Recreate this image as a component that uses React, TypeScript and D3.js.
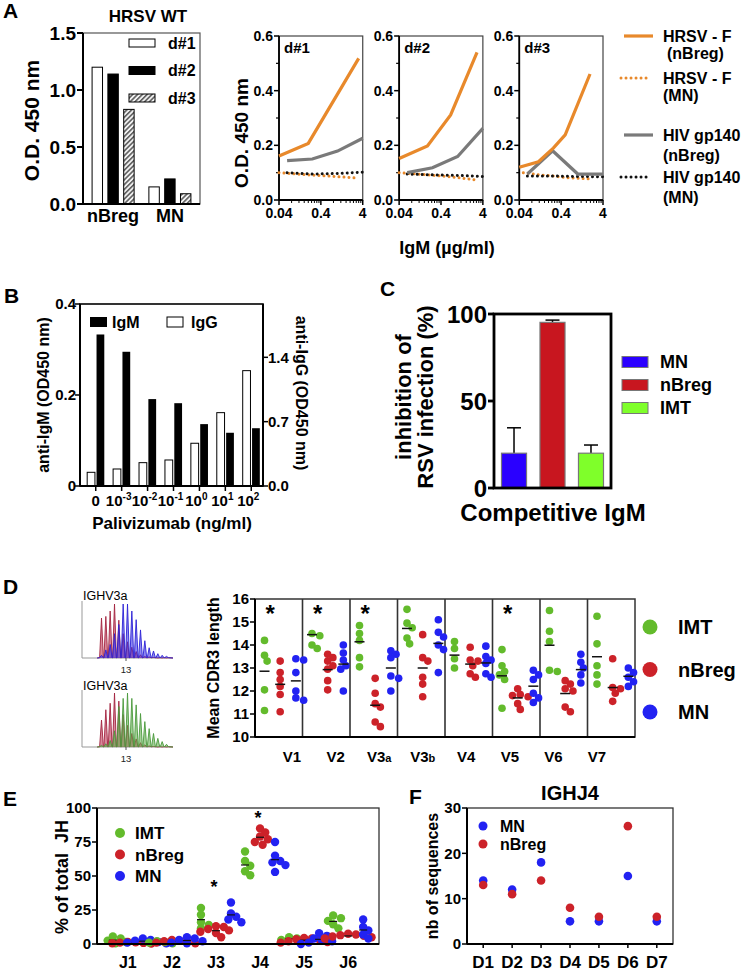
import React from "react";
import * as d3 from "d3";

const FONT = "'Liberation Sans', Arial, Helvetica, sans-serif";
const W = 743;
const H = 972;

// ---------------- Panel A (left) ----------------
const aGroups = ["nBreg", "MN"];
const aDonors = ["d#1", "d#2", "d#3"];
const aDonor1 = [1.2, 0.15];
const aDonor2 = [1.14, 0.22];
const aDonor3 = [0.83, 0.09];
const aTicks = [0, 0.5, 1.0, 1.5];

// ---------------- Panel A (right) ----------------
const arDonors = ["d#1", "d#2", "d#3"];
const arXTicks = [0.04, 0.4, 4];
const arXTickLabels = ["0.04", "0.4", "4"];
const arYTicks = [0, 0.2, 0.4, 0.6];
const arYMinor = [0.1, 0.3, 0.5];
const hrsvNbregX = [[0.04, 0.2, 3.2], [0.04, 0.19, 0.68, 2.9], [0.04, 0.115, 0.26, 0.5, 1.96]];
const hrsvNbregY = [[0.161, 0.207, 0.518], [0.152, 0.198, 0.311, 0.54], [0.12, 0.14, 0.19, 0.238, 0.461]];
const hrsvMnX = [[0.04, 0.2, 0.7, 3.2], [0.04, 0.19, 0.68, 2.9], [0.05, 0.115, 0.26, 0.5, 1.96]];
const hrsvMnY = [[0.1, 0.092, 0.087, 0.08], [0.1, 0.092, 0.085, 0.073], [0.1, 0.092, 0.088, 0.082, 0.077]];
const hivX = [0.0625, 0.25, 1, 4];
const hivNbregY = [[0.144, 0.15, 0.179, 0.226], [0.1, 0.118, 0.159, 0.262], [0.095, 0.18, 0.095, 0.095]];
const hivMnY = [[0.1, 0.095, 0.097, 0.102], [0.095, 0.092, 0.09, 0.086], [0.088, 0.088, 0.086, 0.085]];
const arLegend = ["HRSV - F|(nBreg)", "HRSV - F|(MN)", "HIV gp140|(nBreg)", "HIV gp140|(MN)"];

// ---------------- Panel B ----------------
const bCats = ["0", "1e-3", "1e-2", "1e-1", "1e0", "1e1", "1e2"];
const bExps = ["", "-3", "-2", "-1", "0", "1", "2"];
const bIgM = [0.333, 0.295, 0.191, 0.182, 0.136, 0.117, 0.127];
const bIgG = [0.149, 0.185, 0.254, 0.283, 0.465, 0.798, 1.255];
const bLeftTicks = [0, 0.2, 0.4];
const bRightTicks = [0, 0.7, 1.4];

// ---------------- Panel C ----------------
const cCats = ["MN", "nBreg", "IMT"];
const cMeans = [20, 95.2, 20];
const cErrTop = [34.6, 96.5, 24.7];
const cTicks = [0, 50, 100];

// ---------------- Panel D ----------------
const dGenes = ["V1", "V2", "V3a", "V3b", "V4", "V5", "V6", "V7"];
const dGroups = ["IMT", "nBreg", "MN"];
const dIMT = [
  [14.2, 13.55, 13.3, 12.05, 11.15],
  [14.5, 14.4, 14.0, 13.85],
  [14.85, 14.5, 14.2, 13.45, 13.05],
  [15.55, 14.95, 14.75, 14.3, 14.05],
  [14.15, 13.85, 13.4, 13.0],
  [13.8, 13.1, 12.85, 12.7, 12.5, 11.25],
  [15.5, 14.6, 14.15, 12.9, 12.85],
  [15.25, 14.05, 13.1, 12.7, 12.3],
];
const dNBreg = [
  [13.3, 12.8, 12.5, 12.2, 11.85, 11.1],
  [13.6, 13.45, 13.3, 13.1, 12.95, 12.45, 12.05],
  [12.55, 11.9, 11.45, 11.3, 10.65, 10.45],
  [14.45, 13.45, 13.3, 12.6, 12.3, 11.75],
  [13.9, 13.35, 13.3, 13.1, 12.75, 12.6],
  [12.1, 11.85, 11.8, 11.75, 11.45, 11.2],
  [12.45, 12.3, 12.1, 12.0, 11.3, 11.1],
  [13.4, 12.15, 12.1, 11.9, 11.55],
];
const dMN = [
  [13.4, 13.35, 12.8, 12.0, 11.7, 11.6],
  [14.0, 13.65, 13.35, 13.1, 12.95, 12.0],
  [13.75, 13.6, 13.45, 12.65, 12.55, 12.0],
  [15.1, 14.55, 14.35, 14.0, 13.8, 12.8],
  [13.95, 13.5, 13.35, 13.2, 12.75, 12.6],
  [12.9, 12.7, 12.5, 11.9, 11.7, 11.5],
  [13.6, 13.25, 13.0, 12.7, 12.35],
  [13.0, 12.8, 12.6, 12.4, 12.2],
];
const dLineIMT = [12.86, 14.45, 14.14, 14.72, 13.56, 12.66, 13.99, 13.49];
const dLineNBreg = [12.29, 12.93, 11.38, 13.0, 13.17, 11.7, 11.89, 12.15];
const dLineMN = [12.44, 13.17, 13.0, 14.07, 13.22, 12.21, 12.93, 12.64];
const dStars = ["V1", "V2", "V3a", "V5"];
const dTicks = [10, 11, 12, 13, 14, 15, 16];
// spectratype histograms (CDR3 length vs relative peak height)
const histLen = [7, 8, 9, 10, 11, 12, 13, 14, 15, 16, 17, 18, 19, 20, 21, 22];
const hist1Red = [0.74, 0.77, 0.87, 1.0, 0.7, 0.45, 0.3, 0.2, 0.12, 0.06, 0.03, 0.02, 0.01, 0, 0, 0];
const hist1Blue = [0.05, 0.15, 0.25, 0.45, 0.62, 1.0, 1.0, 0.87, 0.71, 0.52, 0.32, 0.19, 0.13, 0.08, 0.05, 0.03];
const hist2Red = [0.5, 0.69, 0.81, 1.0, 0.85, 0.6, 0.4, 0.25, 0.15, 0.08, 0.04, 0.02, 0.01, 0, 0, 0];
const hist2Green = [0.03, 0.06, 0.12, 0.3, 0.75, 0.9, 1.0, 0.9, 0.78, 0.62, 0.47, 0.34, 0.25, 0.16, 0.1, 0.05];

// ---------------- Panel E ----------------
const eCats = ["J1", "J2", "J3", "J4", "J5", "J6"];
const eIMT = [
  [5.5, 4, 2.5, 1.5, 0.5],
  [2, 1.5, 1, 0.5],
  [26.5, 21.5, 16, 14, 11.5],
  [68, 61, 57.5, 53.5, 50.5],
  [5, 4, 3],
  [21, 19, 17, 14.5, 11.5],
];
const eNBreg = [
  [1.5, 1.2, 1, 0.8, 0.5, 0.3],
  [3, 2.5, 2, 1.5, 1, 0.5],
  [13, 12.5, 11, 10, 9, 8, 5],
  [85, 82, 79, 77, 75, 73],
  [4.5, 4, 3.5, 3, 2, 1.5, 1],
  [7.5, 7, 6.5, 6, 5.5, 5, 4],
];
const eMN = [
  [4, 3, 2.5, 1.5, 1, 0.5],
  [5, 4, 3, 2, 1, 0.5],
  [30.5, 22.5, 20, 18, 16],
  [75, 65, 61, 60, 58, 53],
  [8, 6, 4, 3, 2, 1, 0],
  [18, 12.5, 10, 7, 4],
];
const eStars = ["J3", "J4"];
const eTicks = [0, 25, 50, 75, 100];

// ---------------- Panel F ----------------
const fCats = ["D1", "D2", "D3", "D4", "D5", "D6", "D7"];
const fMN = [14, 12, 18, 5, 5, 15, 5];
const fNBreg = [13, 11, 14, 8, 6, 26, 6];
const fTicks = [0, 10, 20, 30];

const COL = {
  orange: "#e8892b",
  grey: "#7a7a7a",
  green: "#63bb2c",
  red: "#cc2229",
  blue: "#2222f2",
  cBlue: "#2a00ff",
  cRed: "#c8161f",
  cGreen: "#7fff2a",
};

function dodge(vals: number[], yf: (v: number) => number, cx: number, step: number, minD: number) {
  const order = vals.map((_, i) => i).sort((a, b) => vals[b] - vals[a]);
  const placed: { x: number; y: number }[] = [];
  const res: { x: number; y: number }[] = new Array(vals.length);
  for (const i of order) {
    const py = yf(vals[i]);
    let px = cx;
    for (let k = 0; k < 40; k++) {
      const off = k === 0 ? 0 : (k % 2 ? 1 : -1) * Math.ceil(k / 2) * step;
      px = cx + off;
      if (placed.every((p) => Math.hypot(p.x - px, p.y - py) >= minD)) break;
    }
    placed.push({ x: px, y: py });
    res[i] = { x: px, y: py };
  }
  return res;
}

const B = "bold";

function PanelALeft() {
  const L = 83, R = 200, T = 33, Bt = 204;
  const x0 = d3.scaleBand<string>().domain(aGroups).range([L, R]).paddingInner(0.26).paddingOuter(0.16);
  const x1 = d3.scaleBand<string>().domain(aDonors).range([0, x0.bandwidth()]).paddingInner(0.34);
  const y = d3.scaleLinear().domain([0, 1.5]).range([Bt, T]);
  const series = [aDonor1, aDonor2, aDonor3];
  const fills = ["#fff", "#000", "url(#hatchA)"];
  const leg = d3.scalePoint<string>().domain(aDonors).range([43, 98]);
  return (
    <g>
      <defs>
        <pattern id="hatchA" patternUnits="userSpaceOnUse" width={3.4} height={3.4} patternTransform="rotate(45)">
          <rect width={3.4} height={3.4} fill="#f2f2f2" />
          <line x1={0.8} y1={0} x2={0.8} y2={3.4} stroke="#555" strokeWidth={1.5} />
        </pattern>
      </defs>
      <text x={3} y={18} fontSize={21} fontWeight={B}>A</text>
      <text x={148} y={22} fontSize={17} fontWeight={B} textAnchor="middle">HRSV WT</text>
      <rect x={L} y={T} width={R - L} height={Bt - T} fill="none" stroke="#555" strokeWidth={1.2} />
      {aGroups.map((g, gi) =>
        aDonors.map((d, di) => (
          <rect key={g + d} x={x0(g)! + x1(d)!} y={y(series[di][gi])} width={x1.bandwidth()}
            height={Bt - y(series[di][gi])} fill={fills[di]} stroke="#000" strokeWidth={1} />
        ))
      )}
      <line x1={L} x2={L} y1={T} y2={Bt} stroke="#000" strokeWidth={2} />
      <line x1={L} x2={R} y1={Bt} y2={Bt} stroke="#000" strokeWidth={2} />
      {aTicks.map((t) => (
        <g key={t}>
          <line x1={L - 6} x2={L} y1={y(t)} y2={y(t)} stroke="#000" strokeWidth={2} />
          <text x={L - 7} y={y(t)} dy="0.36em" textAnchor="end" fontSize={19} fontWeight={B}>{t.toFixed(1)}</text>
        </g>
      ))}
      {aGroups.map((g) => (
        <text key={g} x={x0(g)! + x0.bandwidth() / 2} y={222} textAnchor="middle" fontSize={18} fontWeight={B}>{g}</text>
      ))}
      <text transform={`translate(31,${(T + Bt) / 2 + 2}) rotate(-90)`} textAnchor="middle" dy="0.36em" fontSize={21} fontWeight={B}>O.D. 450 nm</text>
      {aDonors.map((d, di) => (
        <g key={d}>
          <rect x={129} y={leg(d)! - 4} width={26} height={8} fill={fills[di]} stroke="#000" strokeWidth={1} />
          <text x={168} y={leg(d)!} dy="0.36em" fontSize={16} fontWeight={B}>{d}</text>
        </g>
      ))}
    </g>
  );
}

function PanelARight() {
  const T = 36, Bt = 200;
  const px = d3.scaleBand<string>().domain(arDonors).range([279, 603]).paddingInner(0.303);
  const y = d3.scaleLinear().domain([0, 0.6]).range([Bt, T]);
  const minor = [2, 3, 4, 5, 6, 7, 8, 9].flatMap((k) => [0.04 * k, 0.4 * k]);
  const legY = [36, 78, 135, 177];
  const legStyles = [
    { stroke: COL.orange, dash: undefined, w: 3.2 },
    { stroke: COL.orange, dash: "0.01 5", w: 3 },
    { stroke: COL.grey, dash: undefined, w: 3.2 },
    { stroke: "#111", dash: "0.01 5", w: 3 },
  ];
  return (
    <g>
      {arDonors.map((d, i) => {
        const L = px(d)!, R = L + px.bandwidth();
        const x = d3.scaleLog().domain([0.04, 4]).range([L, R]);
        const line = d3.line<number[]>().x((p) => x(p[0])).y((p) => y(p[1]));
        const pts = (xs: number[], ys: number[]) => xs.map((v, j) => [v, ys[j]]);
        return (
          <g key={d}>
            <rect x={L} y={T} width={R - L} height={Bt - T} fill="none" stroke="#444" strokeWidth={1.2} />
            <line x1={L} x2={L} y1={T} y2={Bt} stroke="#000" strokeWidth={1.8} />
            <line x1={L} x2={R} y1={Bt} y2={Bt} stroke="#000" strokeWidth={1.8} />
            {arYTicks.map((t) => (
              <g key={t}>
                <line x1={L - 5} x2={L} y1={y(t)} y2={y(t)} stroke="#000" strokeWidth={1.5} />
                <text x={L - 6} y={y(t)} dy="0.36em" textAnchor="end" fontSize={14} fontWeight={B}>{t.toFixed(1)}</text>
              </g>
            ))}
            {arYMinor.map((t) => (
              <line key={t} x1={L - 3} x2={L} y1={y(t)} y2={y(t)} stroke="#000" strokeWidth={1.2} />
            ))}
            {minor.filter((m) => m < 4).map((m) => (
              <line key={m} x1={x(m)} x2={x(m)} y1={Bt} y2={Bt + 3} stroke="#000" strokeWidth={1} />
            ))}
            {arXTicks.map((t, j) => (
              <g key={t}>
                <line x1={x(t)} x2={x(t)} y1={Bt} y2={Bt + 5} stroke="#000" strokeWidth={1.5} />
                <text x={x(t)} y={Bt + 18} textAnchor="middle" fontSize={14} fontWeight={B}>{arXTickLabels[j]}</text>
              </g>
            ))}
            <path d={line(pts(hrsvMnX[i], hrsvMnY[i]))!} fill="none" stroke={COL.orange} strokeWidth={3} strokeDasharray="0.01 5" strokeLinecap="round" />
            <path d={line(pts(hivX, hivMnY[i]))!} fill="none" stroke="#111" strokeWidth={3} strokeDasharray="0.01 5" strokeLinecap="round" />
            <path d={line(pts(hivX, hivNbregY[i]))!} fill="none" stroke={COL.grey} strokeWidth={3.2} />
            <path d={line(pts(hrsvNbregX[i], hrsvNbregY[i]))!} fill="none" stroke={COL.orange} strokeWidth={3.2} />
            <text x={L + 5} y={T + 17} fontSize={15} fontWeight={B}>{d}</text>
          </g>
        );
      })}
      <text transform={`translate(241,133) rotate(-90)`} textAnchor="middle" dy="0.36em" fontSize={19} fontWeight={B}>O.D. 450 nm</text>
      <text x={447} y={254} textAnchor="middle" fontSize={18} fontWeight={B}>IgM (µg/ml)</text>
      {arLegend.map((lab, i) => {
        const [l1, l2] = lab.split("|");
        const s = legStyles[i];
        return (
          <g key={lab}>
            <line x1={i % 2 ? 621 : 624} x2={i % 2 ? 647 : 653} y1={legY[i]} y2={legY[i]} stroke={s.stroke} strokeWidth={s.w}
              strokeDasharray={s.dash} strokeLinecap={s.dash ? "round" : "butt"} />
            <text x={663} y={legY[i]} dy="0.36em" fontSize={16} fontWeight={B}>{l1}</text>
            <text x={i === 0 ? 667 : 663} y={legY[i] + (i >= 2 ? 20 : 17)} dy="0.36em" fontSize={16} fontWeight={B}>{l2}</text>
          </g>
        );
      })}
    </g>
  );
}

function PanelB() {
  const L = 80, R = 263, T = 304, Bt = 486;
  const x = d3.scaleBand<string>().domain(bCats).range([L + 2, R + 2]).paddingInner(0.34).paddingOuter(0.2);
  const xs = d3.scaleBand<string>().domain(["IgG", "IgM"]).range([0, x.bandwidth()]).paddingInner(0.17);
  const yL = d3.scaleLinear().domain([0, 0.4]).range([Bt, T]);
  const yR = d3.scaleLinear().domain([0, 1.98]).range([Bt, T]);
  return (
    <g>
      <text x={4} y={303} fontSize={21} fontWeight={B}>B</text>
      <rect x={L} y={T} width={R - L} height={Bt - T} fill="none" stroke="#000" strokeWidth={1.6} />
      {bCats.map((c, i) => (
        <g key={c}>
          <rect x={x(c)! + xs("IgG")!} y={yR(bIgG[i])} width={xs.bandwidth()} height={Bt - yR(bIgG[i])} fill="#fff" stroke="#000" strokeWidth={1} />
          <rect x={x(c)! + xs("IgM")!} y={yL(bIgM[i])} width={xs.bandwidth()} height={Bt - yL(bIgM[i])} fill="#000" />
          <line x1={x(c)! + x.bandwidth() / 2} x2={x(c)! + x.bandwidth() / 2} y1={Bt} y2={Bt + 5} stroke="#000" strokeWidth={1.5} />
          <text x={x(c)! + x.bandwidth() / 2 + (bExps[i] ? -3 : 0)} y={Bt + 20} textAnchor="middle" fontSize={15} fontWeight={B}>
            {bExps[i] ? "10" : "0"}
            {bExps[i] ? <tspan dy={-6} fontSize={10}>{bExps[i]}</tspan> : null}
          </text>
        </g>
      ))}
      <line x1={L} x2={L} y1={T} y2={Bt} stroke="#000" strokeWidth={2} />
      <line x1={L} x2={R} y1={Bt} y2={Bt} stroke="#000" strokeWidth={2} />
      <line x1={R} x2={R} y1={T} y2={Bt} stroke="#000" strokeWidth={2} />
      {bLeftTicks.map((t) => (
        <g key={t}>
          <line x1={L - 5} x2={L} y1={yL(t)} y2={yL(t)} stroke="#000" strokeWidth={1.5} />
          <text x={L - 4} y={yL(t)} dy="0.36em" textAnchor="end" fontSize={15} fontWeight={B}>{t === 0 ? "0" : String(t)}</text>
        </g>
      ))}
      {bRightTicks.map((t) => (
        <g key={t}>
          <line x1={R} x2={R + 5} y1={yR(t)} y2={yR(t)} stroke="#000" strokeWidth={1.5} />
          <text x={R + 5} y={yR(t)} dy="0.36em" fontSize={15} fontWeight={B}>{t.toFixed(1)}</text>
        </g>
      ))}
      <text transform={`translate(43,395) rotate(-90)`} textAnchor="middle" dy="0.36em" fontSize={16} fontWeight={B}>anti-IgM (OD450 nm)</text>
      <text transform={`translate(302,393) rotate(90)`} textAnchor="middle" dy="0.36em" fontSize={16} fontWeight={B}>anti-IgG (OD450 nm)</text>
      <text x={172} y={529} textAnchor="middle" fontSize={17} fontWeight={B}>Palivizumab (ng/ml)</text>
      <rect x={90} y={317} width={17} height={10} fill="#000" />
      <text x={112} y={322} dy="0.36em" fontSize={16} fontWeight={B}>IgM</text>
      <rect x={167} y={317} width={16} height={10} fill="#fff" stroke="#000" strokeWidth={1} />
      <text x={191} y={322} dy="0.36em" fontSize={16} fontWeight={B}>IgG</text>
    </g>
  );
}

function PanelC() {
  const L = 494, R = 611, T = 314, Bt = 488;
  const x = d3.scaleBand<string>().domain(cCats).range([L, R]).paddingInner(0.35).paddingOuter(0.195);
  const y = d3.scaleLinear().domain([0, 100]).range([Bt, T]);
  const fills = [COL.cBlue, COL.cRed, COL.cGreen];
  const leg = d3.scalePoint<string>().domain(cCats).range([362, 408]);
  return (
    <g>
      <text x={380} y={296} fontSize={21} fontWeight={B}>C</text>
      {cCats.map((c, i) => {
        const cx = x(c)! + x.bandwidth() / 2;
        return (
          <g key={c}>
            <line x1={cx} x2={cx} y1={y(cMeans[i])} y2={y(cErrTop[i])} stroke="#000" strokeWidth={1.5} />
            <line x1={cx - 7} x2={cx + 7} y1={y(cErrTop[i])} y2={y(cErrTop[i])} stroke="#000" strokeWidth={1.5} />
            <rect x={x(c)!} y={y(cMeans[i])} width={x.bandwidth()} height={Bt - y(cMeans[i])} fill={fills[i]} stroke="#777" strokeWidth={1.2} />
          </g>
        );
      })}
      <rect x={L} y={T} width={R - L} height={Bt - T} fill="none" stroke="#000" strokeWidth={2.8} />
      {cTicks.map((t) => (
        <g key={t}>
          <line x1={L - 6} x2={L} y1={y(t)} y2={y(t)} stroke="#000" strokeWidth={2.8} />
          <text x={L - 7} y={y(t)} dy="0.36em" textAnchor="end" fontSize={24} fontWeight={B}>{t}</text>
        </g>
      ))}
      <text transform={`translate(403,397) rotate(-90)`} textAnchor="middle" dy="0.36em" fontSize={22} fontWeight={B}>inhibition of</text>
      <text transform={`translate(425,397) rotate(-90)`} textAnchor="middle" dy="0.36em" fontSize={22} fontWeight={B}>RSV infection (%)</text>
      <text x={553} y={521} textAnchor="middle" fontSize={24} fontWeight={B}>Competitive IgM</text>
      {cCats.map((c, i) => (
        <g key={c}>
          <rect x={622} y={leg(c)! - 5.5} width={26} height={11} fill={fills[i]} stroke="#777" strokeWidth={1} />
          <text x={660} y={leg(c)!} dy="0.36em" fontSize={18} fontWeight={B}>{c}</text>
        </g>
      ))}
    </g>
  );
}

function Spectra({ base, top, heights, fill, stroke }: { base: number; top: number; heights: number[]; fill: string; stroke: string }) {
  const x = d3.scaleLinear().domain([2.5, 23.5]).range([82, 173]);
  const h = d3.scaleLinear().domain([0, 1]).range([base, top]);
  const pts: [number, number][] = [[x(6), base]];
  histLen.forEach((l, i) => {
    pts.push([x(l) - 1.9, base - 0.3]);
    pts.push([x(l), h(heights[i])]);
    pts.push([x(l) + 1.9, base - 0.3]);
  });
  pts.push([173, base]);
  const line = d3.line();
  return <path d={line(pts)!} fill={fill} stroke={stroke} strokeWidth={0.9} strokeLinejoin="round" />;
}

function HistAxes({ base, label, labelY }: { base: number; label: string; labelY: number }) {
  const x = d3.scaleLinear().domain([2.5, 23.5]).range([82, 173]);
  return (
    <g>
      <text x={83} y={labelY} fontSize={12.5}>{label}</text>
      <line x1={82} x2={82} y1={base - 57} y2={base} stroke="#999" strokeWidth={1} />
      <line x1={82} x2={173} y1={base} y2={base} stroke="#999" strokeWidth={1} />
      <line x1={x(13) - 1.5} x2={x(13) - 1.5} y1={base} y2={base + 3} stroke="#555" strokeWidth={1} />
      <text x={x(13) - 1.5} y={base + 15} textAnchor="middle" fontSize={9.5} fill="#222">13</text>
    </g>
  );
}

function PanelD() {
  const L = 255, R = 635, T = 599, Bt = 737;
  const x = d3.scaleBand<string>().domain(dGenes).range([L, R]);
  const off = d3.scalePoint<string>().domain(dGroups).range([0.2, 0.86]);
  const y = d3.scaleLinear().domain([10, 16]).range([Bt, T]);
  const lab = d3.scalePoint<string>().domain(dGenes).range([292, 597]);
  const data = [dIMT, dNBreg, dMN];
  const lines = [dLineIMT, dLineNBreg, dLineMN];
  const cols = [COL.green, COL.red, COL.blue];
  const r = 3.8;
  const leg = d3.scalePoint<string>().domain(dGroups).range([627, 712]);
  return (
    <g>
      <text x={3} y={594} fontSize={21} fontWeight={B}>D</text>
      <HistAxes base={658} label="IGHV3a" labelY={600} />
      <Spectra base={658} top={604} heights={hist1Red} fill="rgba(185,40,75,0.55)" stroke="#a3243f" />
      <Spectra base={658} top={604} heights={hist1Blue} fill="rgba(50,40,230,0.55)" stroke="#2d22d6" />
      <HistAxes base={747} label="IGHV3a" labelY={690} />
      <Spectra base={747} top={693} heights={hist2Red} fill="rgba(185,40,75,0.55)" stroke="#a3243f" />
      <Spectra base={747} top={693} heights={hist2Green} fill="rgba(90,170,70,0.55)" stroke="#4b9a3c" />

      <rect x={L} y={T} width={R - L} height={Bt - T} fill="none" stroke="#333" strokeWidth={1.5} />
      {dGenes.slice(1).map((g) => (
        <line key={g} x1={x(g)!} x2={x(g)!} y1={T} y2={Bt} stroke="#333" strokeWidth={1.6} />
      ))}
      {dGenes.map((g, gi) =>
        dGroups.map((grp, k) => {
          const cx = x(g)! + off(grp)! * x.bandwidth();
          const pos = dodge(data[k][gi], y, cx, 2.6, r * 1.55);
          return (
            <g key={g + grp}>
              {pos.map((p, j) => (
                <circle key={j} cx={p.x} cy={p.y} r={r} fill={cols[k]} />
              ))}
              <line x1={cx - 5} x2={cx + 5} y1={y(lines[k][gi])} y2={y(lines[k][gi])} stroke="#111" strokeWidth={1.5} />
            </g>
          );
        })
      )}
      {dStars.map((g) => (
        <text key={g} x={x(g)! + 0.32 * x.bandwidth()} y={622} textAnchor="middle" fontSize={24} fontWeight={B}>*</text>
      ))}
      <line x1={L} x2={L} y1={T} y2={Bt} stroke="#000" strokeWidth={2} />
      <line x1={L} x2={R} y1={Bt} y2={Bt} stroke="#000" strokeWidth={2} />
      {dTicks.map((t) => (
        <g key={t}>
          <line x1={L - 5} x2={L} y1={y(t)} y2={y(t)} stroke="#000" strokeWidth={1.5} />
          <text x={L - 6} y={y(t)} dy="0.36em" textAnchor="end" fontSize={15} fontWeight={B}>{t}</text>
        </g>
      ))}
      {dGenes.map((g) => (
        <text key={g} x={lab(g)!} y={762} textAnchor="middle" fontSize={15} fontWeight={B}>
          {g.slice(0, 2)}
          {g.length > 2 ? <tspan fontSize={11}>{g.slice(2)}</tspan> : null}
        </text>
      ))}
      <text transform={`translate(213,668) rotate(-90)`} textAnchor="middle" dy="0.36em" fontSize={16} fontWeight={B}>Mean CDR3 length</text>
      {dGroups.map((grp, k) => (
        <g key={grp}>
          <circle cx={650} cy={leg(grp)!} r={7.5} fill={cols[k]} />
          <text x={678} y={leg(grp)!} dy="0.36em" fontSize={20} fontWeight={B}>{grp}</text>
        </g>
      ))}
    </g>
  );
}

function PanelE() {
  const L = 97, R = 379, T = 808, Bt = 944;
  const x = d3.scalePoint<string>().domain(eCats).range([L, R]).padding(0.7);
  const off = d3.scalePoint<string>().domain(dGroups).range([-15, 15]);
  const y = d3.scaleLinear().domain([0, 100]).range([Bt, T]);
  const data = [eIMT, eNBreg, eMN];
  const cols = [COL.green, COL.red, COL.blue];
  const r = 4.2;
  const leg = d3.scalePoint<string>().domain(dGroups).range([833, 876]);
  return (
    <g>
      <text x={3} y={806} fontSize={21} fontWeight={B}>E</text>
      <rect x={L} y={T} width={R - L} height={Bt - T} fill="none" stroke="#333" strokeWidth={1.3} />
      {eCats.map((c, ci) =>
        dGroups.map((grp, k) => {
          const cx = x(c)! + off(grp)!;
          const pos = dodge(data[k][ci], y, cx, 2.6, r * 1.45);
          const m = d3.mean(data[k][ci])!;
          return (
            <g key={c + grp}>
              {pos.map((p, j) => (
                <circle key={j} cx={p.x} cy={p.y} r={r} fill={cols[k]} />
              ))}
              <line x1={cx - 4} x2={cx + 4} y1={y(m)} y2={y(m)} stroke="#111" strokeWidth={1.2} />
            </g>
          );
        })
      )}
      {eStars.map((c) => {
        const top = d3.max([eIMT, eNBreg, eMN].map((s) => d3.max(s[eCats.indexOf(c)])!))!;
        return (
          <text key={c} x={x(c)! - 2} y={y(top) - (c === "J4" ? 4 : 10)} textAnchor="middle" fontSize={18} fontWeight={B}>*</text>
        );
      })}
      <line x1={L} x2={L} y1={T} y2={Bt} stroke="#000" strokeWidth={2} />
      <line x1={L} x2={R} y1={Bt} y2={Bt} stroke="#000" strokeWidth={2} />
      {eTicks.map((t) => (
        <g key={t}>
          <line x1={L - 5} x2={L} y1={y(t)} y2={y(t)} stroke="#000" strokeWidth={1.5} />
          <text x={L - 6} y={y(t)} dy="0.36em" textAnchor="end" fontSize={15} fontWeight={B}>{t}</text>
        </g>
      ))}
      {eCats.map((c) => (
        <text key={c} x={x(c)!} y={968} textAnchor="middle" fontSize={16} fontWeight={B}>{c}</text>
      ))}
      <text transform={`translate(62,877) rotate(-90)`} textAnchor="middle" dy="0.36em" fontSize={18} fontWeight={B}>{"% of total\u00a0\u00a0JH"}</text>
      {dGroups.map((grp, k) => (
        <g key={grp}>
          <circle cx={120} cy={leg(grp)!} r={5} fill={cols[k]} />
          <text x={135} y={leg(grp)!} dy="0.36em" fontSize={17} fontWeight={B}>{grp}</text>
        </g>
      ))}
    </g>
  );
}

function PanelF() {
  const L = 467, R = 673, T = 808, Bt = 944;
  const x = d3.scalePoint<string>().domain(fCats).range([L, R]).padding(0.56);
  const y = d3.scaleLinear().domain([0, 30]).range([Bt, T]);
  const r = 4.3;
  return (
    <g>
      <text x={409} y={804} fontSize={21} fontWeight={B}>F</text>
      <text x={570} y={800} textAnchor="middle" fontSize={20} fontWeight={B}>IGHJ4</text>
      <rect x={L} y={T} width={R - L} height={Bt - T} fill="none" stroke="#333" strokeWidth={1.3} />
      {fCats.map((c, i) => (
        <circle key={c} cx={x(c)!} cy={y(fMN[i])} r={r} fill={COL.blue} />
      ))}
      {fCats.map((c, i) => (
        <circle key={c} cx={x(c)!} cy={y(fNBreg[i])} r={r} fill={COL.red} />
      ))}
      <line x1={L} x2={L} y1={T} y2={Bt} stroke="#000" strokeWidth={2} />
      <line x1={L} x2={R} y1={Bt} y2={Bt} stroke="#000" strokeWidth={2} />
      {fTicks.map((t) => (
        <g key={t}>
          <line x1={L - 5} x2={L} y1={y(t)} y2={y(t)} stroke="#000" strokeWidth={1.5} />
          <text x={L - 6} y={y(t)} dy="0.36em" textAnchor="end" fontSize={15} fontWeight={B}>{t}</text>
        </g>
      ))}
      {fCats.map((c) => (
        <g key={c}>
          <line x1={x(c)!} x2={x(c)!} y1={Bt} y2={Bt + 4} stroke="#000" strokeWidth={1.5} />
          <text x={x(c)!} y={968} textAnchor="middle" fontSize={17} fontWeight={B}>{c}</text>
        </g>
      ))}
      <text transform={`translate(432,876) rotate(-90)`} textAnchor="middle" dy="0.36em" fontSize={16} fontWeight={B}>nb of sequences</text>
      <circle cx={483} cy={826} r={4.5} fill={COL.blue} />
      <text x={500} y={826} dy="0.36em" fontSize={16} fontWeight={B}>MN</text>
      <circle cx={483} cy={844} r={4.5} fill={COL.red} />
      <text x={500} y={844} dy="0.36em" fontSize={16} fontWeight={B}>nBreg</text>
    </g>
  );
}

export default function App() {
  return (
    <svg width={W} height={H} viewBox={`0 0 ${W} ${H}`} fontFamily={FONT}
      style={{ position: "absolute", left: 0, top: 0, background: "#fff" }}>
      <rect width={W} height={H} fill="#fff" />
      <PanelALeft />
      <PanelARight />
      <PanelB />
      <PanelC />
      <PanelD />
      <PanelE />
      <PanelF />
    </svg>
  );
}
